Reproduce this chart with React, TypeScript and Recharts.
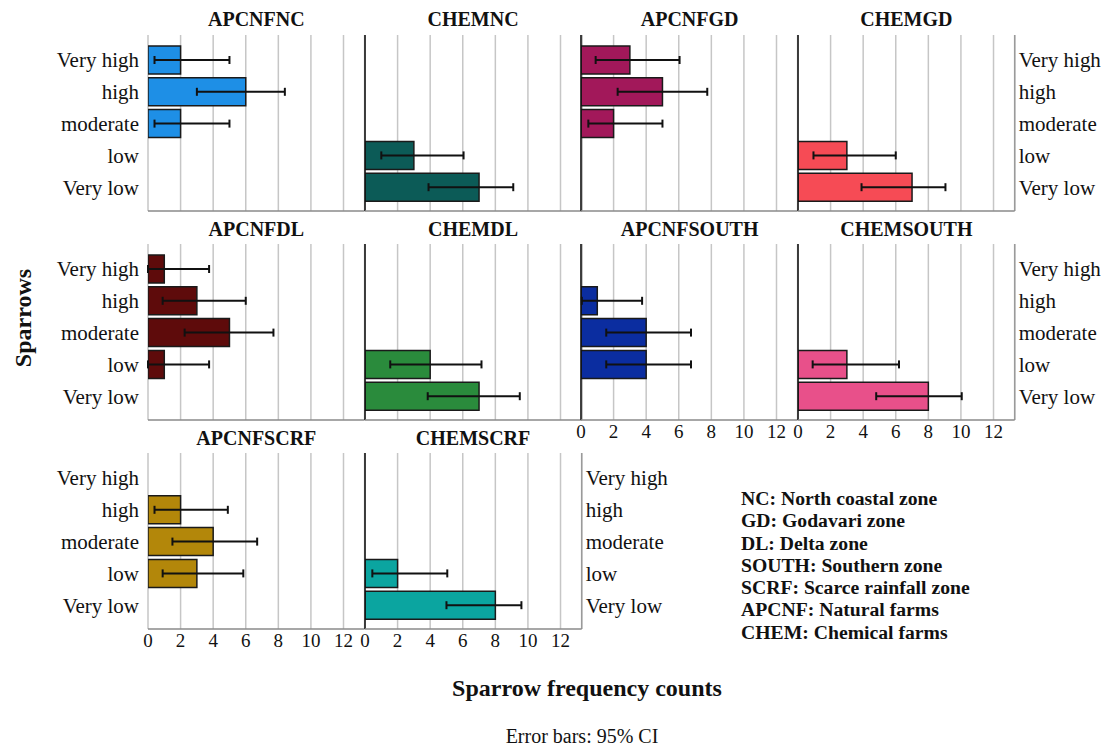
import React from 'react';
import { BarChart, Bar, XAxis, YAxis, CartesianGrid, ErrorBar, ReferenceLine } from 'recharts';

const FONT = "'Liberation Serif', 'Times New Roman', Times, serif";

const categories = ['Very high', 'high', 'moderate', 'low', 'Very low'];
const xTicks = [0, 2, 4, 6, 8, 10, 12];
const XMAX = 13.3;

// counts, lower CI, upper CI (top to bottom in the order of categories)
const apcnfNC = [2, 6, 2, null, null];
const apcnfNCLo = [0.4, 3.0, 0.4, null, null];
const apcnfNCHi = [5.0, 8.4, 5.0, null, null];

const chemNC = [null, null, null, 3, 7];
const chemNCLo = [null, null, null, 1.0, 3.9];
const chemNCHi = [null, null, null, 6.05, 9.1];

const apcnfGD = [3, 5, 2, null, null];
const apcnfGDLo = [0.9, 2.25, 0.45, null, null];
const apcnfGDHi = [6.05, 7.75, 5.0, null, null];

const chemGD = [null, null, null, 3, 7];
const chemGDLo = [null, null, null, 0.95, 3.9];
const chemGDHi = [null, null, null, 6.0, 9.05];

const apcnfDL = [1, 3, 5, 1, null];
const apcnfDLLo = [0, 0.9, 2.25, 0, null];
const apcnfDLHi = [3.75, 6.0, 7.7, 3.75, null];

const chemDL = [null, null, null, 4, 7];
const chemDLLo = [null, null, null, 1.55, 3.85];
const chemDLHi = [null, null, null, 7.15, 9.5];

const apcnfSOUTH = [null, 1, 4, 4, null];
const apcnfSOUTHLo = [null, 0.05, 1.55, 1.55, null];
const apcnfSOUTHHi = [null, 3.75, 6.75, 6.75, null];

const chemSOUTH = [null, null, null, 3, 8];
const chemSOUTHLo = [null, null, null, 0.9, 4.8];
const chemSOUTHHi = [null, null, null, 6.2, 10.05];

const apcnfSCRF = [null, 2, 4, 3, null];
const apcnfSCRFLo = [null, 0.4, 1.5, 0.9, null];
const apcnfSCRFHi = [null, 4.9, 6.7, 5.85, null];

const chemSCRF = [null, null, null, 2, 8];
const chemSCRFLo = [null, null, null, 0.45, 5.0];
const chemSCRFHi = [null, null, null, 5.05, 9.6];

const legendLines = [
  'NC: North coastal zone',
  'GD: Godavari zone',
  'DL: Delta zone',
  'SOUTH: Southern zone',
  'SCRF: Scarce rainfall zone',
  'APCNF: Natural farms',
  'CHEM: Chemical farms',
];

type Side = 'left' | 'right' | null;
interface PanelDef {
  title: string;
  counts: (number | null)[];
  lo: (number | null)[];
  hi: (number | null)[];
  color: string;
  row: number;
  col: number;
  labels: Side;
  ticks: boolean;
}

const panels: PanelDef[] = [
  { title: 'APCNFNC', counts: apcnfNC, lo: apcnfNCLo, hi: apcnfNCHi, color: '#1e8fe6', row: 0, col: 0, labels: 'left', ticks: false },
  { title: 'CHEMNC', counts: chemNC, lo: chemNCLo, hi: chemNCHi, color: '#0c5b57', row: 0, col: 1, labels: null, ticks: false },
  { title: 'APCNFGD', counts: apcnfGD, lo: apcnfGDLo, hi: apcnfGDHi, color: '#a2185a', row: 0, col: 2, labels: null, ticks: false },
  { title: 'CHEMGD', counts: chemGD, lo: chemGDLo, hi: chemGDHi, color: '#f64b55', row: 0, col: 3, labels: 'right', ticks: false },
  { title: 'APCNFDL', counts: apcnfDL, lo: apcnfDLLo, hi: apcnfDLHi, color: '#5e0b0b', row: 1, col: 0, labels: 'left', ticks: false },
  { title: 'CHEMDL', counts: chemDL, lo: chemDLLo, hi: chemDLHi, color: '#2a8b3c', row: 1, col: 1, labels: null, ticks: false },
  { title: 'APCNFSOUTH', counts: apcnfSOUTH, lo: apcnfSOUTHLo, hi: apcnfSOUTHHi, color: '#0b2da0', row: 1, col: 2, labels: null, ticks: true },
  { title: 'CHEMSOUTH', counts: chemSOUTH, lo: chemSOUTHLo, hi: chemSOUTHHi, color: '#e8508a', row: 1, col: 3, labels: 'right', ticks: true },
  { title: 'APCNFSCRF', counts: apcnfSCRF, lo: apcnfSCRFLo, hi: apcnfSCRFHi, color: '#b3870a', row: 2, col: 0, labels: 'left', ticks: true },
  { title: 'CHEMSCRF', counts: chemSCRF, lo: chemSCRFLo, hi: chemSCRFHi, color: '#0ba5a0', row: 2, col: 1, labels: 'right', ticks: true },
];

const COL_LEFT = [148, 364.7, 581.3, 798];
const ROW_TOP = [35, 244, 453];
const TITLE_TOP = [9, 219, 427.5];
const PLOT_W = 216.7;
const PLOT_H = 176;
const AXIS_H = 30;
const SIDE_PAD = 16;

const EmptyTick = () => <g />;

const Panel = ({ p }: { p: PanelDef }) => {
  const leftW = p.labels === 'left' ? COL_LEFT[0] : 0;
  const rightW = p.labels === 'right' ? 110 : 0;
  const padL = p.labels === 'left' ? 0 : SIDE_PAD;
  const padR = p.labels === 'right' ? 0 : SIDE_PAD;
  const width = PLOT_W + leftW + rightW + padL + padR;
  const height = PLOT_H + AXIS_H;
  const data = categories.map((c, i) => ({ cat: c, value: p.counts[i], lo: p.lo[i], hi: p.hi[i] }));
  const tickStyle = { fill: '#111', fontSize: 21, fontFamily: FONT };

  return (
    <div style={{ position: 'absolute', left: COL_LEFT[p.col] - leftW - padL, top: ROW_TOP[p.row], width, height }}>
      <BarChart
        layout="vertical"
        width={width}
        height={height}
        data={data}
        barSize={28}
        margin={{ top: 0, right: padR, bottom: 0, left: padL }}
      >
        <CartesianGrid horizontal={false} stroke="#c6c6c6" strokeWidth={1.5} />
        <XAxis
          type="number"
          domain={[0, XMAX]}
          ticks={xTicks}
          interval={0}
          allowDataOverflow
          height={AXIS_H}
          axisLine={{ stroke: '#8a8a8a', strokeWidth: 1.5 }}
          tickLine={false}
          tickSize={0}
          tickMargin={5}
          tick={p.ticks ? { fill: '#111', fontSize: 19, fontFamily: FONT } : EmptyTick}
        />
        <YAxis
          type="category"
          dataKey="cat"
          hide={!p.labels}
          orientation={p.labels === 'right' ? 'right' : 'left'}
          width={p.labels === 'right' ? rightW : leftW}
          interval={0}
          axisLine={false}
          tickLine={false}
          tickSize={0}
          tickMargin={p.labels === 'right' ? 4 : 9}
          padding={{ top: 9, bottom: 8 }}
          tick={tickStyle}
        />
        {p.col > 0 && <ReferenceLine x={0} stroke="#111" strokeWidth={1.5} />}
        <ReferenceLine x={XMAX} stroke="#9a9a9a" strokeWidth={1.5} />
        <Bar dataKey="value" fill={p.color} stroke="#1a1a1a" strokeWidth={1.5} isAnimationActive={false}>
          <ErrorBar
            dataKey={(d: any) => (d.value == null ? undefined : [d.value - d.lo, d.hi - d.value])}
            direction="x"
            width={4}
            strokeWidth={2}
            stroke="#111"
          />
        </Bar>
      </BarChart>
    </div>
  );
};

export default function App() {
  return (
    <div style={{ position: 'absolute', left: 0, top: 0, width: 1117, height: 749, background: '#fff', fontFamily: FONT, color: '#111' }}>
      {panels.map((p) => (
        <Panel key={p.title} p={p} />
      ))}
      {panels.map((p) => (
        <div
          key={p.title + '-t'}
          style={{
            position: 'absolute',
            left: COL_LEFT[p.col],
            width: PLOT_W,
            top: TITLE_TOP[p.row],
            textAlign: 'center',
            fontWeight: 'bold',
            fontSize: 20,
            lineHeight: '20px',
            whiteSpace: 'nowrap',
          }}
        >
          {p.title}
        </div>
      ))}
      <div
        style={{
          position: 'absolute',
          left: 23 - 100,
          top: 318 - 13,
          width: 200,
          textAlign: 'center',
          fontWeight: 'bold',
          fontSize: 24,
          lineHeight: '26px',
          transform: 'rotate(-90deg)',
          transformOrigin: 'center',
        }}
      >
        Sparrows
      </div>
      <div style={{ position: 'absolute', left: 741, top: 487, fontWeight: 'bold', fontSize: 19.7, lineHeight: '22.3px', whiteSpace: 'nowrap' }}>
        {legendLines.map((l) => (
          <div key={l}>{l}</div>
        ))}
      </div>
      <div style={{ position: 'absolute', left: 387, width: 400, top: 675, textAlign: 'center', fontWeight: 'bold', fontSize: 24, lineHeight: '26px' }}>
        Sparrow frequency counts
      </div>
      <div style={{ position: 'absolute', left: 382, width: 400, top: 725, textAlign: 'center', fontSize: 20, lineHeight: '22px' }}>
        Error bars: 95% CI
      </div>
    </div>
  );
}
